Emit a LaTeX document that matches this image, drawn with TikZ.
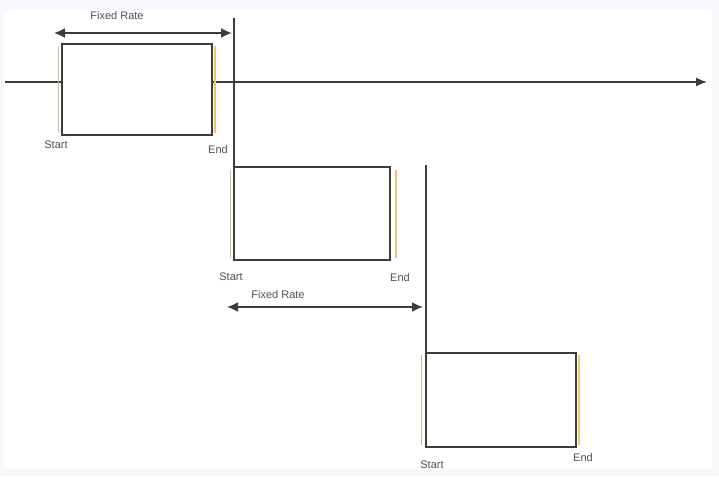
\documentclass[tikz,border=0pt]{standalone}
\usepackage{fontspec}
\setmainfont{Liberation Sans}
\usetikzlibrary{arrows.meta}
\definecolor{frameclr}{HTML}{F6F8FC}
\definecolor{lineclr}{HTML}{3C3C3C}
\definecolor{txtclr}{HTML}{505050}
\definecolor{startclr}{HTML}{A9D18E}
\definecolor{endclr}{HTML}{F5C46A}
\begin{document}
\begin{tikzpicture}[x=1pt,y=-1pt,
  period/.style={draw=lineclr, line width=1.8pt, fill=white, inner sep=0pt, outer sep=0pt},
  axis/.style={draw=lineclr, line width=1.5pt},
  lbl/.style={text=txtclr, font=\fontsize{11}{12}\selectfont, inner sep=0pt},
  rate/.style={draw=lineclr, line width=1.8pt, {Latex[length=11pt,width=10pt]}-{Latex[length=11pt,width=10pt]}},
  startmark/.style={draw=startclr, line width=1.4pt},
  endmark/.style={draw=endclr, line width=1.4pt}]
\useasboundingbox (0,0) rectangle (719,476);
\fill[frameclr] (0,0) rectangle (719,476);
\fill[white] (4,10) rectangle (712,469);
% timeline
\coordinate (t0) at (5,82);
\coordinate (t1) at (707,82);
\draw[axis, -{Latex[length=11pt,width=9pt]}] (t0) -- (t1);
% periods
\node[period, minimum width=150pt, minimum height=91pt] (p1) at (137,89.5) {};
\node[period, minimum width=156pt, minimum height=93pt] (p2) at (312,213.5) {};
\node[period, minimum width=150pt, minimum height=94pt] (p3) at (501,400) {};
% reset lines
\coordinate (v1) at (234,18);
\coordinate (v2) at (426,165);
\draw[axis] (v1) -- (p2.north west);
\draw[axis] (v2) -- (p3.north west);
% coloured marks
\draw[startmark] ([xshift=-3.5pt,yshift=-2pt]p1.north west) -- ([xshift=-3.5pt,yshift=2pt]p1.south west);
\draw[endmark] ([xshift=3pt,yshift=-2pt]p1.north east) -- ([xshift=3pt,yshift=2pt]p1.south east);
\draw[startmark] ([xshift=-3.5pt,yshift=-3pt]p2.north west) -- ([xshift=-3.5pt,yshift=2pt]p2.south west);
\draw[endmark] ([xshift=6pt,yshift=-3pt]p2.north east) -- ([xshift=6pt,yshift=2pt]p2.south east);
\draw[startmark] ([xshift=-4.5pt,yshift=-2pt]p3.north west) -- ([xshift=-4.5pt,yshift=2pt]p3.south west);
\draw[endmark] ([xshift=3pt,yshift=-2pt]p3.north east) -- ([xshift=3pt,yshift=2pt]p3.south east);
% fixed rate arrows
\coordinate (r1a) at (54,33);
\coordinate (r1b) at (232,33);
\draw[rate] (r1a) -- (r1b);
\coordinate (r2a) at (227,307);
\coordinate (r2b) at (423,307);
\draw[rate] (r2a) -- (r2b);
% labels
\node[lbl] (f1) at (117,16) {Fixed Rate};
\node[lbl] (f2) at (278,295) {Fixed Rate};
\node[lbl] (s1) at (56,145) {Start};
\node[lbl] (e1) at (218,150) {End};
\node[lbl] (s2) at (231,277) {Start};
\node[lbl] (e2) at (400,278) {End};
\node[lbl] (s3) at (432,465) {Start};
\node[lbl] (e3) at (583,458) {End};
\end{tikzpicture}
\end{document}
